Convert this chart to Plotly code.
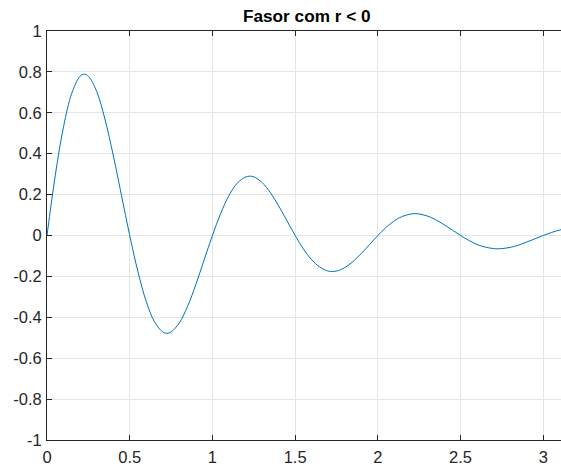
import plotly.graph_objects as go

# sampled response of the phasor (damped oscillation)
t = [0.000, 0.050, 0.100, 0.150, 0.200, 0.225, 0.250, 0.300, 0.350, 0.400, 0.450,
     0.500, 0.550, 0.600, 0.650, 0.700, 0.725, 0.750, 0.800, 0.850, 0.900, 0.950,
     1.000, 1.050, 1.100, 1.150, 1.200, 1.225, 1.250, 1.300, 1.350, 1.400, 1.450,
     1.500, 1.550, 1.600, 1.650, 1.700, 1.725, 1.750, 1.800, 1.850, 1.900, 1.950,
     2.000, 2.050, 2.100, 2.150, 2.200, 2.225, 2.250, 2.300, 2.350, 2.400, 2.450,
     2.500, 2.550, 2.600, 2.650, 2.700, 2.725, 2.750, 2.800, 2.850, 2.900, 2.950,
     3.000, 3.050, 3.100, 3.140]
y = [0.000, 0.294, 0.532, 0.696, 0.779, 0.789, 0.779, 0.705, 0.570, 0.394, 0.197,
     0.000, -0.178, -0.323, -0.422, -0.472, -0.478, -0.472, -0.427, -0.346, -0.239, -0.119,
     0.000, 0.108, 0.196, 0.256, 0.286, 0.290, 0.287, 0.259, 0.210, 0.145, 0.073,
     0.000, -0.066, -0.119, -0.155, -0.174, -0.176, -0.174, -0.157, -0.127, -0.088, -0.044,
     0.000, 0.040, 0.072, 0.094, 0.105, 0.107, 0.105, 0.095, 0.077, 0.053, 0.027,
     0.000, -0.024, -0.044, -0.057, -0.064, -0.065, -0.064, -0.058, -0.047, -0.032, -0.016,
     0.000, 0.015, 0.027, 0.034]

x_ticks = [0, 0.5, 1, 1.5, 2, 2.5, 3]
x_tick_labels = ["0", "0.5", "1", "1.5", "2", "2.5", "3"]
y_ticks = [-1, -0.8, -0.6, -0.4, -0.2, 0, 0.2, 0.4, 0.6, 0.8, 1]
y_tick_labels = ["-1", "-0.8", "-0.6", "-0.4", "-0.2", "0", "0.2", "0.4", "0.6", "0.8", "1"]

W, H = 561, 468
L, R, T, B = 46.5, 0, 31, 28

axis_color = "#262626"
grid_color = "#e5e5e5"
font_family = "Arial, Liberation Sans, Helvetica, sans-serif"
tick_size = 16.5

fig = go.Figure(go.Scatter(
    x=t, y=y, mode="lines",
    line=dict(color="#0072BD", width=1, shape="spline", smoothing=1.0),
    hoverinfo="skip",
))

fig.update_layout(
    width=W, height=H,
    margin=dict(l=L, r=R, t=T, b=B, pad=0),
    paper_bgcolor="white", plot_bgcolor="white",
    showlegend=False,
    font=dict(family=font_family, size=tick_size, color=axis_color),
    annotations=[dict(
        text="<b>Fasor com r &lt; 0</b>",
        xref="paper", yref="paper",
        x=0.506, y=1, yshift=3, xanchor="center", yanchor="bottom",
        showarrow=False,
        font=dict(family=font_family, size=17.2, color="black"),
    )],
)

fig.update_xaxes(
    range=[0, 3.107], tickvals=x_ticks, ticktext=x_tick_labels,
    showgrid=True, gridcolor=grid_color, gridwidth=1,
    zeroline=False, showline=True, linecolor=axis_color, linewidth=1,
    mirror="ticks", ticks="inside", ticklen=5, tickcolor=axis_color,
    ticklabelstandoff=2,
    tickfont=dict(size=tick_size, color=axis_color),
)
fig.update_yaxes(
    range=[-1, 1], tickvals=y_ticks, ticktext=y_tick_labels,
    showgrid=True, gridcolor=grid_color, gridwidth=1,
    zeroline=False, showline=True, linecolor=axis_color, linewidth=1,
    mirror=False, ticks="inside", ticklen=5, tickcolor=axis_color,
    ticklabelstandoff=1,
    tickfont=dict(size=tick_size, color=axis_color),
)

fig.write_html("out.html")
